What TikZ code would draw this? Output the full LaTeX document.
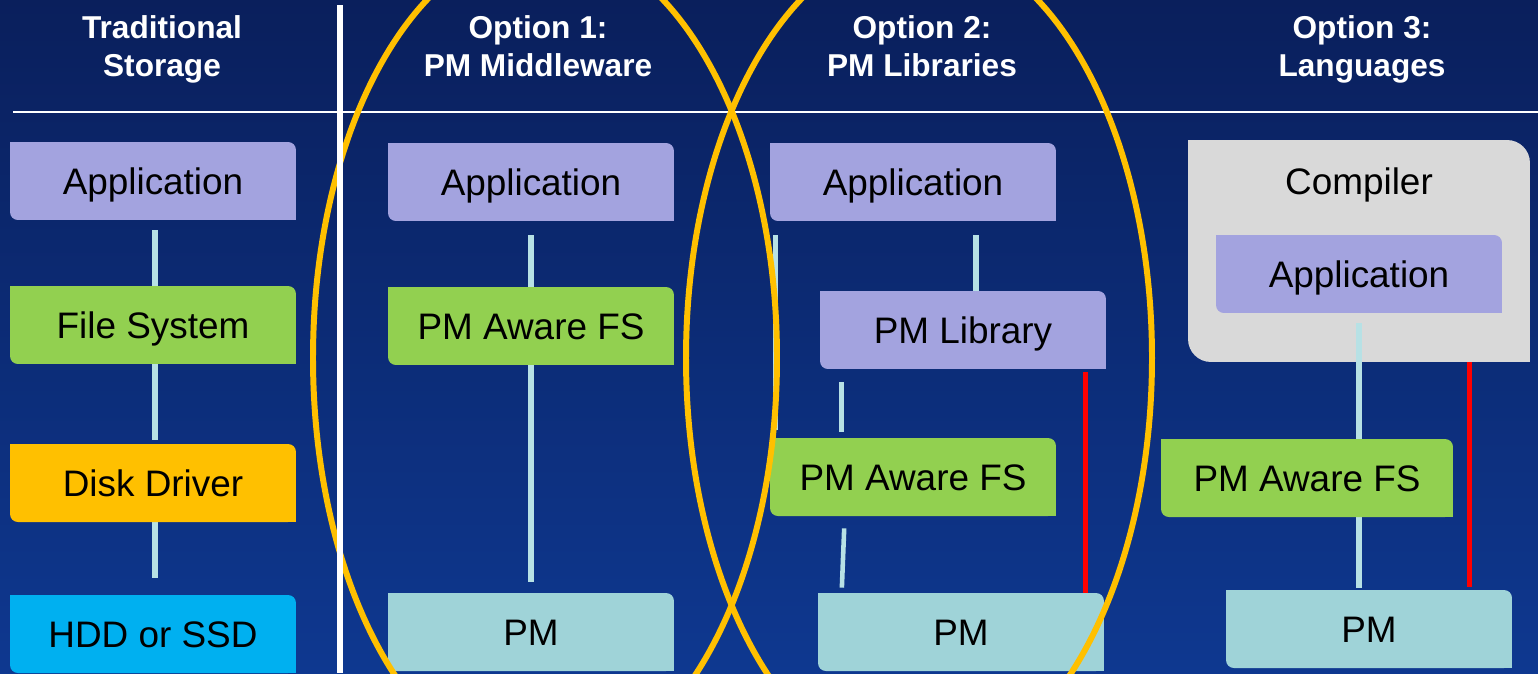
\documentclass[tikz,border=0pt]{standalone}
\usepackage{fontspec}
\setmainfont{Liberation Sans}
\pgfdeclarelayer{bg}
\pgfdeclarelayer{wires}
\pgfsetlayers{bg,wires,main}
\definecolor{navytop}{HTML}{0A1F5C}
\definecolor{navybot}{HTML}{0E3890}
\definecolor{appcol}{HTML}{A3A3DF}
\definecolor{fscol}{HTML}{92D050}
\definecolor{drvcol}{HTML}{FFC000}
\definecolor{diskcol}{HTML}{00B0F0}
\definecolor{pmcol}{HTML}{9FD3D8}
\definecolor{compcol}{HTML}{D9D9D9}
\definecolor{wirecol}{HTML}{B7E1E5}
\definecolor{ringcol}{HTML}{FFC000}
\tikzset{
	diagfill/.style 2 args={path picture={
			\fill[#1,rounded corners=#2] (path picture bounding box.south west) rectangle (path picture bounding box.north east);
			\fill[#1] (path picture bounding box.north west) rectangle ++(#2,-#2);
			\fill[#1] (path picture bounding box.south east) rectangle ++(-#2,#2);}},
	boxtext/.style={text=black, font=\fontsize{21}{25}\selectfont, text height=15pt, text depth=0pt},
	blk/.style={diagfill={#1}{4.5pt}, boxtext, minimum width=5.72cm, minimum height=1.56cm, inner sep=0pt},
	head/.style={text=white, align=center, anchor=north, font=\fontsize{18}{22}\selectfont\bfseries},
	wire/.style={draw=wirecol, line width=3.2pt},
	redwire/.style={draw=red, line width=2.8pt},
	ring/.style={draw=ringcol, line width=3.4pt}
}
\begin{document}
\begin{tikzpicture}[x=0.02cm,y=-0.02cm]
		\useasboundingbox (0,0) rectangle (1538,673);
		\begin{pgfonlayer}{bg}
		\shade[top color=navytop, bottom color=navybot] (0,0) rectangle (1538,673);
		\draw[white, line width=1.4pt] (13,112) -- (1538,112);
		% compiler shell of option 3
		\node[diagfill={compcol}{13pt}, minimum width=6.84cm, minimum height=4.44cm, inner sep=0pt] (o3Comp) at (1359,251) {};
		\node[boxtext] (o3CompLbl) at (1359,181) {Compiler};
		\end{pgfonlayer}
		
		\node[head] (tsHead) at (162,9) {Traditional\\Storage};
		\node[head] (o1Head) at (538,9) {Option 1:\\PM Middleware};
		\node[head] (o2Head) at (922,9) {Option 2:\\PM Libraries};
		\node[head] (o3Head) at (1362,9) {Option 3:\\Languages};
		
		% traditional storage
		\node[blk=appcol] (tsApp) at (153,181) {Application};
		\node[blk=fscol] (tsFS) at (153,325) {File System};
		\node[blk=drvcol] (tsDrv) at (153,483) {Disk Driver};
		\node[blk=diskcol] (tsDisk) at (153,634) {HDD or SSD};
		
		% option 1
		\node[blk=appcol] (o1App) at (531,182) {Application};
		\node[blk=fscol] (o1FS) at (531,326) {PM Aware FS};
		\node[blk=pmcol] (o1PM) at (531,632) {PM};
		
		% option 2
		\node[blk=appcol] (o2App) at (913,182) {Application};
		\node[blk=appcol] (o2Lib) at (963,330) {PM Library};
		\node[blk=fscol] (o2FS) at (913,477) {PM Aware FS};
		\node[blk=pmcol] (o2PM) at (961,632) {PM};
		
		% option 3
		\node[blk=appcol] (o3App) at (1359,274) {Application};
		\node[blk=fscol, minimum width=5.84cm] (o3FS) at (1307,478) {PM Aware FS};
		\node[blk=pmcol] (o3PM) at (1369,629) {PM};
		
		\coordinate (libIn) at ([xshift=0.26cm]o2Lib.north);
		\coordinate (libOut) at ([xshift=0.44cm]o2Lib.south west);
		\coordinate (libRed) at ([xshift=-0.42cm]o2Lib.south east);
		\coordinate (pmRed) at ([xshift=-0.86cm]o3PM.north east);
		
		\begin{pgfonlayer}{wires}
		\draw[wire, shorten <=0.2cm] ([xshift=0.04cm]tsApp.south) -- ([xshift=0.04cm]tsFS.north);
		\draw[wire, shorten >=0.08cm] ([xshift=0.04cm]tsFS.south) -- ([xshift=0.04cm]tsDrv.north);
		\draw[wire, shorten >=0.34cm] ([xshift=0.04cm]tsDrv.south) -- ([xshift=0.04cm]tsDisk.north);
		
		\draw[wire, shorten <=0.28cm, shorten >=0.22cm] (o1App.south) -- (o1PM.north);
		
		\draw[wire, shorten <=0.28cm] (o2App.south -| libIn) -- (libIn);
		\draw[wire, line width=2.6pt, shorten <=0.28cm, shorten >=0.16cm] ([xshift=0.12cm]o2App.south west) -- ([xshift=0.12cm]o2FS.north west);
		\draw[wire, shorten <=0.26cm, shorten >=0.12cm] (libOut) -- (libOut |- o2FS.north);
		\draw[redwire, shorten <=0.06cm] (libRed) -- (libRed |- o2PM.north);
		\draw[wire, line width=2.6pt, shorten <=0.24cm, shorten >=0.1cm] ([xshift=1.5cm]o2FS.south west) -- ([xshift=0.48cm]o2PM.north west);
		
		\draw[wire, shorten <=0.2cm, shorten >=0.04cm] (o3App.south) -- (o3App.south |- o3PM.north);
		\draw[redwire, shorten >=0.06cm] (pmRed |- o3Comp.south) -- (pmRed);
		\end{pgfonlayer}
		
		\draw[ring] (545,358) ellipse [x radius=232, y radius=416];
		\draw[ring] (919,358) ellipse [x radius=233, y radius=416];
		\draw[white, line width=3.4pt] (340,5) -- (340,673);
		
\end{tikzpicture}
\end{document}
